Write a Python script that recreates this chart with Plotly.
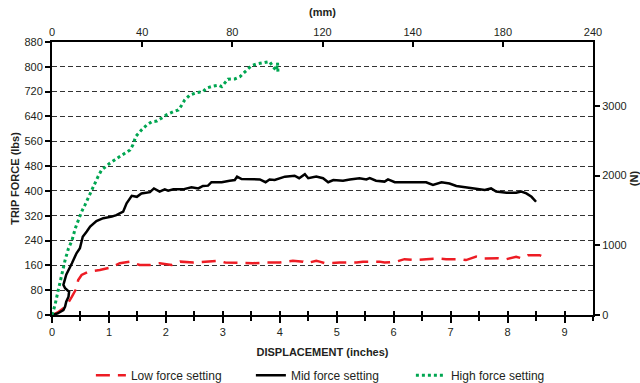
import plotly.graph_objects as go

# ---- data (inches, lbs) ----
low_x = [0, 0.1, 0.2, 0.26, 0.35, 0.43, 0.46, 0.52, 0.64, 0.84, 1.05, 1.19, 1.37, 1.54, 1.72, 1.89, 2.10, 2.25,
         2.48, 2.71, 2.92, 3.04, 3.30, 3.53, 3.77, 4.00, 4.23, 4.41, 4.47, 4.64, 4.70, 4.79, 5.05, 5.35, 5.46,
         5.75, 5.84, 6.05, 6.19, 6.40, 6.57, 6.81, 6.92, 7.16, 7.27, 7.45, 7.57, 7.83, 7.98, 8.15, 8.24, 8.36,
         8.56, 8.71]
low_y = [0, 8, 22, 32, 59, 86, 113, 129, 140, 145, 154, 167, 172, 161, 161, 167, 161, 172, 169, 172, 175, 169,
         167, 167, 169, 169, 175, 172, 167, 175, 172, 167, 169, 169, 172, 172, 169, 172, 180, 177, 180, 182, 180,
         180, 177, 188, 182, 183, 180, 188, 183, 193, 193, 180]

mid_x = [0, 0.1, 0.2, 0.23, 0.25, 0.29, 0.30, 0.23, 0.20, 0.25, 0.35, 0.43, 0.49, 0.54, 0.61, 0.67, 0.78, 0.90,
         1.05, 1.13, 1.25, 1.31, 1.40, 1.49, 1.57, 1.72, 1.79, 1.89, 1.98, 2.04, 2.13, 2.30, 2.45, 2.57, 2.65,
         2.74, 2.80, 2.98, 3.12, 3.21, 3.25, 3.33, 3.65, 3.75, 3.82, 3.91, 4.09, 4.26, 4.34, 4.44, 4.50, 4.64,
         4.76, 4.85, 4.94, 5.11, 5.23, 5.40, 5.52, 5.58, 5.69, 5.84, 5.90, 6.02, 6.57, 6.69, 6.84, 6.98, 7.10,
         7.27, 7.39, 7.51, 7.60, 7.71, 7.80, 7.98, 8.15, 8.24, 8.33, 8.42, 8.50]
mid_y = [0, 5, 16, 27, 43, 59, 75, 86, 97, 130, 167, 199, 215, 252, 269, 285, 303, 312, 317, 322, 333, 360, 384,
         381, 392, 396, 408, 398, 405, 401, 405, 405, 412, 408, 416, 417, 428, 428, 433, 435, 446, 438, 437, 428,
         437, 435, 446, 449, 441, 454, 441, 446, 441, 428, 435, 433, 437, 441, 437, 441, 433, 430, 437, 428, 428,
         419, 428, 424, 416, 412, 408, 405, 403, 408, 398, 394, 394, 398, 392, 381, 365]

high_x = [0, 0.05, 0.11, 0.17, 0.23, 0.29, 0.35, 0.41, 0.46, 0.52, 0.58, 0.64, 0.70, 0.75, 0.81, 0.87, 0.95,
          1.02, 1.10, 1.19, 1.28, 1.37, 1.42, 1.47, 1.57, 1.66, 1.75, 1.84, 1.92, 2.01, 2.13, 2.22, 2.28, 2.33,
          2.42, 2.54, 2.65, 2.71, 2.83, 2.92, 2.98, 3.04, 3.09, 3.21, 3.30, 3.36, 3.42, 3.50, 3.59, 3.71, 3.82,
          3.88, 3.94, 3.96, 3.97]
high_y = [0, 30, 80, 134, 177, 215, 240, 280, 306, 333, 355, 380, 405, 425, 447, 467, 480, 490, 500, 510, 521,
          532, 548, 575, 596, 612, 623, 625, 634, 645, 655, 661, 677, 693, 709, 717, 720, 731, 738, 741, 736, 749,
          760, 761, 768, 779, 790, 803, 809, 813, 817, 800, 788, 813, 776]

lbs_ticks = [0, 80, 160, 240, 320, 400, 480, 560, 640, 720, 800, 880]
in_ticks = [0, 1, 2, 3, 4, 5, 6, 7, 8, 9]
mm_tickvals = [0, 40, 80, 120, 160, 200, 240]
mm_ticktext = ["0", "40", "80", "120", "140", "180", "240"]
n_ticks = [0, 1000, 2000, 3000]

X_MAX = 9.5
Y_MAX = 880
LBF_TO_N = 4.44822

FONT = "Liberation Sans, Arial, sans-serif"
TXT = "#231f20"

fig = go.Figure()
fig.add_trace(go.Scatter(x=low_x, y=low_y, mode="lines", name="Low force setting",
                         line=dict(color="#ed1c24", width=2.5, dash="14px,8px")))
fig.add_trace(go.Scatter(x=mid_x, y=mid_y, mode="lines", name="Mid force setting",
                         line=dict(color="#000000", width=2.5)))
fig.add_trace(go.Scatter(x=high_x, y=high_y, mode="lines", name="High force setting",
                         line=dict(color="#00a651", width=3, dash="3px,3px")))
# invisible traces to activate secondary axes
fig.add_trace(go.Scatter(x=[0, 240], y=[0, 0], xaxis="x2", yaxis="y", mode="lines",
                         line=dict(width=0), showlegend=False, hoverinfo="skip"))
fig.add_trace(go.Scatter(x=[0, 0], y=[0, 1000], xaxis="x", yaxis="y2", mode="lines",
                         line=dict(width=0), showlegend=False, hoverinfo="skip"))
fig.add_trace(go.Scatter(x=[0, X_MAX], y=[0, 0], xaxis="x3", yaxis="y", mode="lines",
                         line=dict(width=0), showlegend=False, hoverinfo="skip"))

axis_common = dict(showline=True, linecolor="black", linewidth=2, zeroline=False, automargin=False,
                   tickcolor="black", tickfont=dict(family=FONT, size=11, color=TXT))
title_font = dict(family=FONT, size=11, color=TXT)

fig.update_layout(
    width=640, height=383,
    margin=dict(l=52, r=47, t=42, b=68, autoexpand=False),
    plot_bgcolor="white", paper_bgcolor="white",
    font=dict(family=FONT, size=11, color=TXT),
    xaxis=dict(range=[0, X_MAX], tickvals=in_ticks, ticks="outside", ticklen=6, tickwidth=1.5,
               showgrid=False,
               minor=dict(dtick=0.5, ticks="outside", ticklen=4, tickwidth=1.5, tickcolor="black", showgrid=False),
               title=dict(text="<b>DISPLACEMENT (inches)</b>", font=title_font, standoff=11),
               **axis_common),
    xaxis3=dict(range=[0, X_MAX], overlaying="x", side="bottom", anchor="y", dtick=0.5, tick0=0,
                ticks="inside", ticklen=4, tickwidth=1.5, tickcolor="black", showticklabels=False,
                showline=False, showgrid=False, zeroline=False, automargin=False),
    xaxis2=dict(range=[0, 240], overlaying="x", side="top", anchor="y", tickvals=mm_tickvals,
                ticktext=mm_ticktext, ticks="inside", ticklen=5, tickwidth=1.5, showgrid=False,
                title=dict(text="<b>(mm)</b>", font=title_font, standoff=7),
                **axis_common),
    yaxis=dict(range=[0, Y_MAX], tickvals=lbs_ticks, ticks="outside", ticklen=5, tickwidth=1.5,
               showgrid=True, gridcolor="#333333", gridwidth=1, griddash="5px,3px",
               title=dict(text="<b>TRIP FORCE (lbs)</b>", font=title_font, standoff=3),
               **axis_common),
    yaxis2=dict(range=[0, Y_MAX * LBF_TO_N], overlaying="y", side="right", anchor="x", tickvals=n_ticks,
                ticks="outside", ticklen=5, tickwidth=1.5, showgrid=False,
                title=dict(text="<b>(N)</b>", font=title_font, standoff=8),
                **axis_common),
    legend=dict(orientation="h", x=0.142, xanchor="left", xref="container",
                y=0.058, yanchor="top", yref="container",
                font=dict(family=FONT, size=12, color=TXT), entrywidth=115, bgcolor="rgba(0,0,0,0)"),
    showlegend=True,
)

fig.write_html("out.html")
